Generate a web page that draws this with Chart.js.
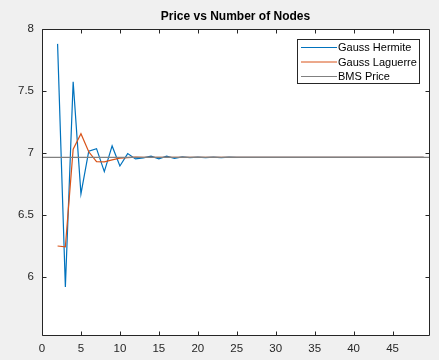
<!DOCTYPE html>
<html lang="en">
<head>
  <meta charset="UTF-8">
  <title>Price vs Number of Nodes</title>
  <script src="https://cdn.jsdelivr.net/npm/chart.js"></script>
  <style>
    html, body {
      margin: 0;
      padding: 0;
      background-color: #f0f0f0;
    }
    #chartContainer {
      width: 439px;
      height: 360px;
    }
  </style>
</head>
<body>
  <div id="chartContainer">
    <canvas id="priceChart"></canvas>
  </div>

  <script>
    // number of quadrature nodes
    const nodes = [2, 3, 4, 5, 6, 7, 8, 9, 10, 11, 12, 13, 14, 15, 16, 17, 18, 19, 20,
      21, 22, 23, 24, 25, 26, 27, 28, 29, 30, 31, 32, 33, 34, 35, 36, 37, 38, 39, 40,
      41, 42, 43, 44, 45, 46, 47, 48, 49];

    const gaussHermite = [7.88, 5.92, 7.575, 6.67, 7.015, 7.035, 6.85, 7.057, 6.895, 6.995,
      6.952, 6.96, 6.975, 6.952, 6.974, 6.956, 6.968, 6.962, 6.967, 6.963,
      6.967, 6.962, 6.966, 6.964, 6.965, 6.965, 6.965, 6.965, 6.965, 6.965,
      6.965, 6.965, 6.965, 6.965, 6.965, 6.965, 6.965, 6.965, 6.965, 6.965,
      6.965, 6.965, 6.965, 6.965, 6.965, 6.965, 6.965, 6.965];

    const gaussLaguerre = [6.25, 6.243, 7.03, 7.155, 7.01, 6.93, 6.928, 6.945, 6.958, 6.963,
      6.966, 6.965, 6.965, 6.965, 6.965, 6.965, 6.965, 6.965, 6.965, 6.965,
      6.965, 6.965, 6.965, 6.965, 6.965, 6.965, 6.965, 6.965, 6.965, 6.965,
      6.965, 6.965, 6.965, 6.965, 6.965, 6.965, 6.965, 6.965, 6.965, 6.965,
      6.965, 6.965, 6.965, 6.965, 6.965, 6.965, 6.965, 6.965];

    const bmsPrice = 6.965;
    const bmsRange = [0, 50];

    const xTicks = [0, 5, 10, 15, 20, 25, 30, 35, 40, 45];
    const yTicks = [6, 6.5, 7, 7.5, 8];

    const titleText = 'Price vs Number of Nodes';
    const FONT = '"Liberation Sans", Arial, Helvetica, sans-serif';
    const AXIS_COLOR = '#262626';

    const toPoints = (xs, ys) => xs.map((x, i) => ({ x: x, y: ys[i] }));

    // white axes background, frame, inward ticks, title and legend
    const matlabFrame = {
      id: 'matlabFrame',
      beforeDatasetsDraw(chart) {
        const a = chart.chartArea;
        const ctx = chart.ctx;
        ctx.save();
        ctx.fillStyle = '#fff';
        ctx.fillRect(a.left, a.top, a.right - a.left, a.bottom - a.top);
        ctx.restore();
      },
      afterDraw(chart) {
        const ctx = chart.ctx;
        const a = chart.chartArea;
        const xs = chart.scales.x;
        const ys = chart.scales.y;
        const L = Math.round(a.left) + 0.5, R = Math.round(a.right) + 0.5;
        const T = Math.round(a.top) + 0.5, B = Math.round(a.bottom) + 0.5;
        ctx.save();
        ctx.strokeStyle = AXIS_COLOR;
        ctx.lineWidth = 1;
        ctx.beginPath();
        ctx.rect(L, T, R - L, B - T);
        ctx.stroke();

        const tl = 4;
        ctx.beginPath();
        xTicks.forEach(v => {
          const px = Math.round(xs.getPixelForValue(v)) + 0.5;
          ctx.moveTo(px, B); ctx.lineTo(px, B - tl);
          ctx.moveTo(px, T); ctx.lineTo(px, T + tl);
        });
        yTicks.forEach(v => {
          const py = Math.round(ys.getPixelForValue(v)) + 0.5;
          ctx.moveTo(L, py); ctx.lineTo(L + tl, py);
          ctx.moveTo(R, py); ctx.lineTo(R - tl, py);
        });
        ctx.stroke();

        // title
        ctx.fillStyle = '#000';
        ctx.font = 'bold 12px ' + FONT;
        ctx.textAlign = 'center';
        ctx.textBaseline = 'middle';
        ctx.fillText(titleText, (a.left + a.right) / 2, 17);

        // legend box
        const bx = 297, by = 39, bw = 122, bh = 44;
        ctx.fillStyle = '#fff';
        ctx.fillRect(bx, by, bw, bh);
        ctx.strokeStyle = AXIS_COLOR;
        ctx.strokeRect(bx + 0.5, by + 0.5, bw, bh);
        ctx.font = '11px ' + FONT;
        ctx.textAlign = 'left';
        chart.data.datasets.forEach((ds, i) => {
          const ly = by + 8 + i * 14.5;
          ctx.strokeStyle = ds.borderColor;
          ctx.lineWidth = 1;
          ctx.beginPath();
          ctx.moveTo(bx + 4, ly + 0.5);
          ctx.lineTo(bx + 40, ly + 0.5);
          ctx.stroke();
          ctx.fillStyle = '#000';
          ctx.fillText(ds.label, bx + 41, ly + 1);
        });
        ctx.restore();
      }
    };

    new Chart(document.getElementById('priceChart'), {
      type: 'line',
      data: {
        datasets: [
          {
            label: 'Gauss Hermite',
            data: toPoints(nodes, gaussHermite),
            borderColor: '#0072bd',
            borderWidth: 1.2,
            pointRadius: 0,
            tension: 0,
            order: 3,
          },
          {
            label: 'Gauss Laguerre',
            data: toPoints(nodes, gaussLaguerre),
            borderColor: '#d95319',
            borderWidth: 1.2,
            pointRadius: 0,
            tension: 0,
            order: 2,
          },
          {
            label: 'BMS Price',
            data: bmsRange.map(x => ({ x: x, y: bmsPrice })),
            borderColor: '#808080',
            borderWidth: 1.2,
            pointRadius: 0,
            order: 1,
          },
        ],
      },
      options: {
        responsive: true,
        maintainAspectRatio: false,
        animation: false,
        layout: { padding: { top: 29, right: 10, left: 0, bottom: 0 } },
        plugins: {
          legend: { display: false },
          title: { display: false },
          tooltip: { enabled: false },
        },
        scales: {
          x: {
            type: 'linear',
            min: 0,
            max: 49.68,
            grid: { display: false },
            border: { display: false },
            afterFit: s => { s.height = 25; },
            afterBuildTicks: s => { s.ticks = xTicks.map(v => ({ value: v })); },
            ticks: {
              padding: -1,
              maxRotation: 0,
              color: AXIS_COLOR,
              font: { family: FONT, size: 11.5 },
            },
          },
          y: {
            min: 5.532,
            max: 8,
            grid: { display: false },
            border: { display: false },
            afterFit: s => { s.width = 42; },
            afterBuildTicks: s => { s.ticks = yTicks.map(v => ({ value: v })); },
            ticks: {
              padding: 0,
              color: AXIS_COLOR,
              font: { family: FONT, size: 11.5 },
              callback: v => String(v),
            },
          },
        },
      },
      plugins: [matlabFrame],
    });
  </script>
</body>
</html>
